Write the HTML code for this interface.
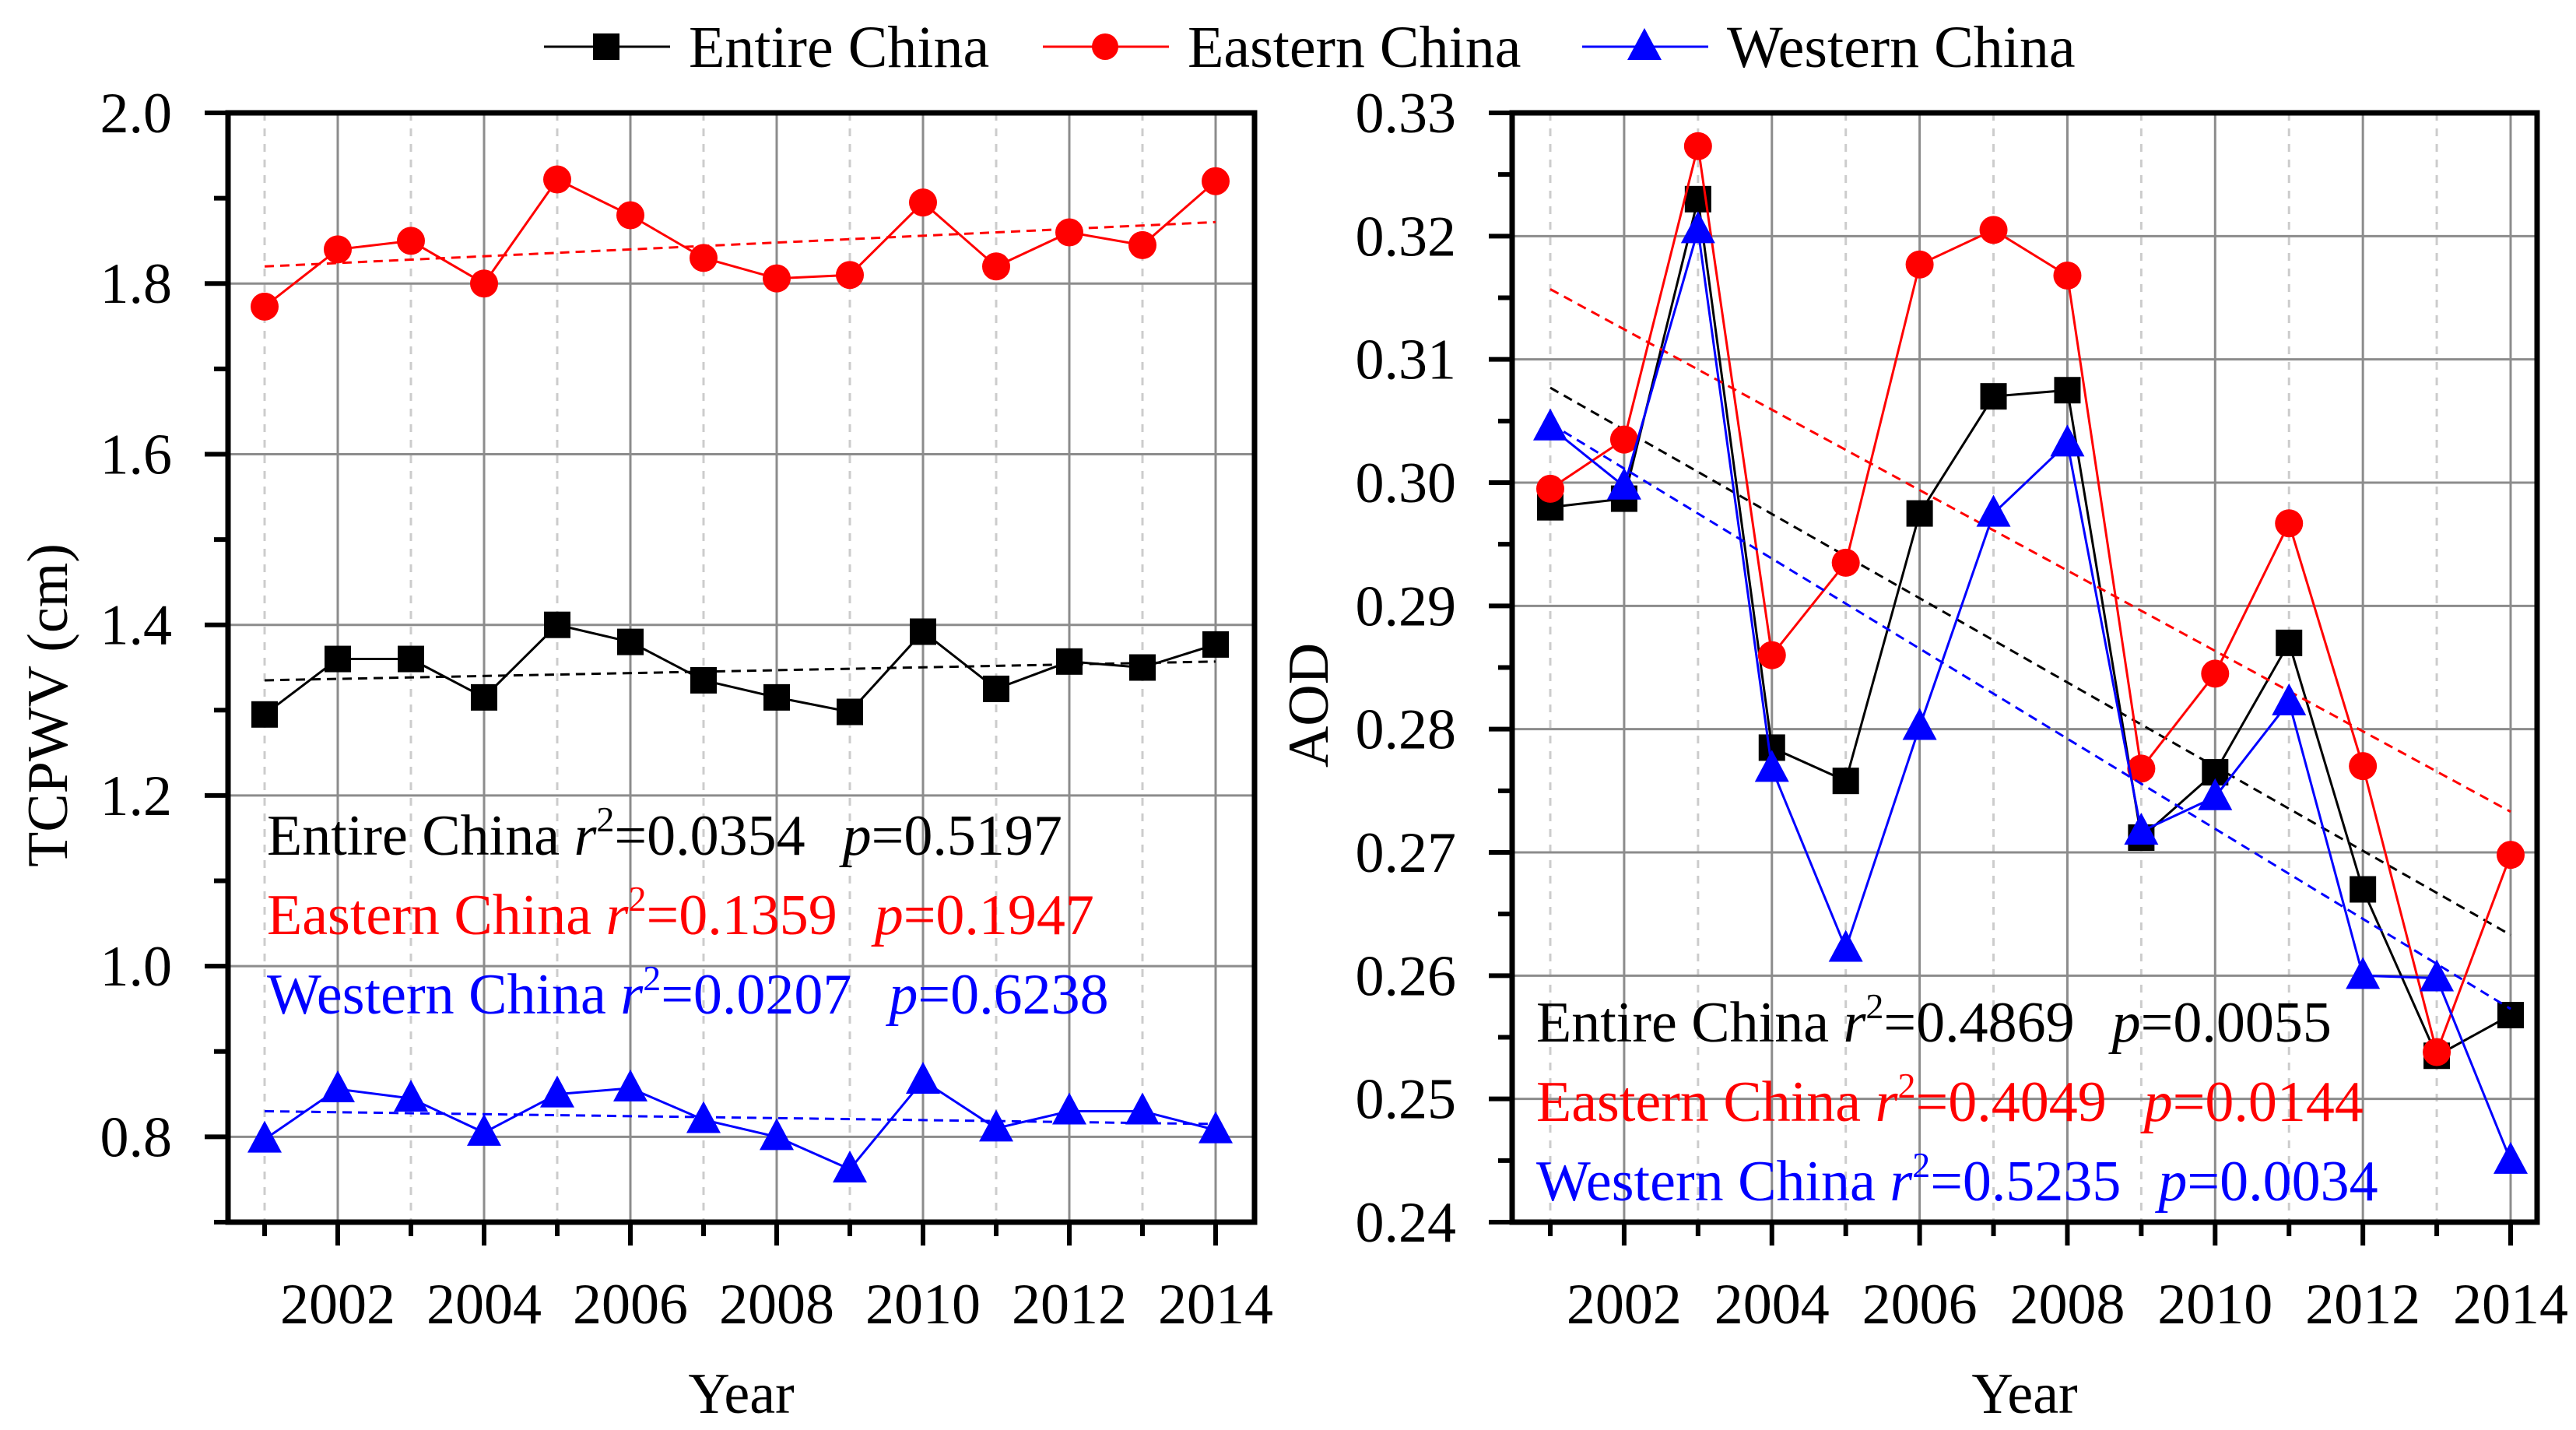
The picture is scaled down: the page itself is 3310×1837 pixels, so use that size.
<!DOCTYPE html>
<html><head><meta charset="utf-8"><style>
html,body{margin:0;padding:0;background:#fff;}
svg{display:block;font-family:"Liberation Serif",serif;}
svg text{font-family:"Liberation Serif",serif;font-variant-numeric:normal;}
</style></head><body>
<svg id="chart" width="3310" height="1837" viewBox="0 0 3310 1837" xmlns="http://www.w3.org/2000/svg"></svg>
<script>
const years = [2001,2002,2003,2004,2005,2006,2007,2008,2009,2010,2011,2012,2013,2014];
const xTickLabels = ["2002","2004","2006","2008","2010","2012","2014"];
// left panel: TCPWV
const tcpwvEntire = [1.295,1.36,1.36,1.315,1.40,1.38,1.335,1.315,1.298,1.392,1.325,1.357,1.35,1.377];
const tcpwvEastern = [1.773,1.84,1.85,1.80,1.922,1.88,1.83,1.806,1.81,1.895,1.82,1.86,1.845,1.92];
const tcpwvWestern = [0.797,0.856,0.845,0.805,0.85,0.857,0.82,0.80,0.762,0.866,0.81,0.83,0.83,0.808];
const tcpwvTrendEntire = [1.335,1.357];
const tcpwvTrendEastern = [1.82,1.872];
const tcpwvTrendWestern = [0.83,0.815];
const tcpwvTicks = ["0.8","1.0","1.2","1.4","1.6","1.8","2.0"];
// right panel: AOD
const aodEntire = [0.298,0.2987,0.323,0.2785,0.2758,0.2975,0.307,0.3075,0.2712,0.2765,0.287,0.267,0.2535,0.2568];
const aodEastern = [0.2995,0.3035,0.3273,0.286,0.2935,0.3177,0.3205,0.3168,0.2768,0.2845,0.2967,0.277,0.2538,0.2698];
const aodWestern = [0.3045,0.2997,0.3205,0.2768,0.2622,0.2802,0.2975,0.3032,0.2717,0.2745,0.2822,0.26,0.2598,0.245];
const aodTrendEntire = [0.3077,0.2633];
const aodTrendEastern = [0.3157,0.2733];
const aodTrendWestern = [0.3048,0.2573];
const aodTicks = ["0.24","0.25","0.26","0.27","0.28","0.29","0.30","0.31","0.32","0.33"];

const NS="http://www.w3.org/2000/svg";
const svg=document.getElementById('chart');
const FF='"Liberation Serif", serif';
function mk(tag,attrs,parent){const e=document.createElementNS(NS,tag);for(const k in attrs)e.setAttribute(k,attrs[k]);if(tag==='text')e.setAttribute('font-family',FF);(parent||svg).appendChild(e);return e;}
const FS=74;

function panel(opt){
  const g=mk('g',{});
  
  
  const X=y=>opt.x0+(y-2001)*(opt.x1-opt.x0)/13;
  const Y=v=>opt.yTop+(opt.vTop-v)*(opt.yBot-opt.yTop)/(opt.vTop-opt.vBot);
  years.forEach(yr=>{
    const major=yr%2===0;
    const l=mk('line',{x1:X(yr),x2:X(yr),y1:opt.yTop,y2:opt.yBot,stroke:major?'#8c8c8c':'#cccccc','stroke-width':3,'stroke-dasharray':major?'none':'10,10'},g);
    
    
  });
  opt.ticks.forEach(t=>{
    const v=parseFloat(t);const y=Y(v);
    const l=mk('line',{x1:opt.fx0,x2:opt.fx1,y1:y,y2:y,stroke:'#8c8c8c','stroke-width':3},g);
    
    
    mk('line',{x1:opt.fx0-30,x2:opt.fx0,y1:y,y2:y,stroke:'#000','stroke-width':6},g);
    const tx=mk('text',{x:opt.fx0-72,y:y+25,'font-size':FS,'text-anchor':'end',fill:'#000'},g);
    tx.textContent=t;
    
    
  });
  for(let i=0;i<opt.ticks.length;i++){
    const v=parseFloat(opt.ticks[i])-opt.step/2;
    if(v>opt.vBot-1e-9){const y=Y(v);mk('line',{x1:opt.fx0-18,x2:opt.fx0,y1:y,y2:y,stroke:'#000','stroke-width':6},g);}
  }
  years.forEach(yr=>{
    const major=yr%2===0;
    mk('line',{x1:X(yr),x2:X(yr),y1:opt.yBot,y2:opt.yBot+(major?30:18),stroke:'#000','stroke-width':6},g);
  });
  xTickLabels.forEach(t=>{
    const tx=mk('text',{x:X(+t),y:1700,'font-size':FS,'text-anchor':'middle',fill:'#000'},g);
    tx.textContent=t;
    
    
  });
  const fr=mk('rect',{x:opt.fx0,y:opt.yTop,width:opt.fx1-opt.fx0,height:opt.yBot-opt.yTop,fill:'none',stroke:'#000','stroke-width':7},g);
  
  
  opt.series.forEach(s=>{
    const tl=mk('line',{x1:X(2001),x2:X(2014),y1:Y(s.trend[0]),y2:Y(s.trend[1]),stroke:s.color,'stroke-width':3,'stroke-dasharray':'12,8'},g);
    
    
    const pts=s.vals.map((v,i)=>X(years[i])+','+Y(v)).join(' ');
    const pl=mk('polyline',{points:pts,fill:'none',stroke:s.color,'stroke-width':3},g);
    
    
    s.vals.forEach((v,i)=>{
      const cx=X(years[i]),cy=Y(v);let m;
      if(s.marker==='sq') m=mk('rect',{x:cx-17,y:cy-17,width:34,height:34,fill:s.color},g);
      else if(s.marker==='ci') m=mk('circle',{cx:cx,cy:cy,r:18,fill:s.color},g);
      else m=mk('polygon',{points:`${cx},${cy-24} ${cx-22},${cy+17} ${cx+22},${cy+17}`,fill:s.color},g);
      
      
    });
  });
  opt.notes.forEach((n,i)=>{
    const tx=mk('text',{x:opt.noteX,y:opt.noteY+i*102,'font-size':FS,fill:n.color},g);
    tx.innerHTML=`${n.label} <tspan font-style="italic">r</tspan><tspan dy="-30" font-size="46">2</tspan><tspan dy="30">=${n.r}</tspan><tspan dx="48" font-style="italic">p</tspan><tspan>=${n.p}</tspan>`;
    
    
  });
  const xt=mk('text',{x:(opt.fx0+opt.fx1)/2,y:1815,'font-size':FS,'text-anchor':'middle',fill:'#000'},g);
  xt.textContent='Year';
  
  
  const yt=mk('text',{x:0,y:0,'font-size':FS,'text-anchor':'middle',fill:'#000',transform:`translate(${opt.ytX},906) rotate(-90)`},g);
  yt.textContent=opt.ytitle;
  
  
}

panel({name:'tcpwv-panel',fx0:293,fx1:1612,x0:340,x1:1562,yTop:145,yBot:1570,vTop:2.0,vBot:0.7,step:0.2,ticks:tcpwvTicks,ytitle:'TCPWV (cm)',ytX:86,
  noteX:343,noteY:1098,
  series:[
    {key:'entire-china',vals:tcpwvEntire,trend:tcpwvTrendEntire,color:'#000',marker:'sq'},
    {key:'eastern-china',vals:tcpwvEastern,trend:tcpwvTrendEastern,color:'#ff0000',marker:'ci'},
    {key:'western-china',vals:tcpwvWestern,trend:tcpwvTrendWestern,color:'#0000ff',marker:'tr'}],
  notes:[{label:'Entire China',r:'0.0354',p:'0.5197',color:'#000'},{label:'Eastern China',r:'0.1359',p:'0.1947',color:'#ff0000'},{label:'Western China',r:'0.0207',p:'0.6238',color:'#0000ff'}]});
panel({name:'aod-panel',fx0:1943,fx1:3260,x0:1992,x1:3226,yTop:145,yBot:1570,vTop:0.33,vBot:0.24,step:0.01,ticks:aodTicks,ytitle:'AOD',ytX:1706,
  noteX:1974,noteY:1338,
  series:[
    {key:'entire-china',vals:aodEntire,trend:aodTrendEntire,color:'#000',marker:'sq'},
    {key:'eastern-china',vals:aodEastern,trend:aodTrendEastern,color:'#ff0000',marker:'ci'},
    {key:'western-china',vals:aodWestern,trend:aodTrendWestern,color:'#0000ff',marker:'tr'}],
  notes:[{label:'Entire China',r:'0.4869',p:'0.0055',color:'#000'},{label:'Eastern China',r:'0.4049',p:'0.0144',color:'#ff0000'},{label:'Western China',r:'0.5235',p:'0.0034',color:'#0000ff'}]});

const legend=[{label:'Entire China',color:'#000',marker:'sq',x:699},{label:'Eastern China',color:'#ff0000',marker:'ci',x:1340},{label:'Western China',color:'#0000ff',marker:'tr',x:2033}];
legend.forEach(L=>{
  const g=mk('g',{});
  
  
  const y=60,cx=L.x+80;
  mk('line',{x1:L.x,x2:L.x+162,y1:y,y2:y,stroke:L.color,'stroke-width':3},g);
  if(L.marker==='sq') mk('rect',{x:cx-17,y:y-17,width:34,height:34,fill:L.color},g);
  else if(L.marker==='ci') mk('circle',{cx:cx,cy:y,r:17,fill:L.color},g);
  else mk('polygon',{points:`${cx},${y-24} ${cx-22},${y+17} ${cx+22},${y+17}`,fill:L.color},g);
  const t=mk('text',{x:L.x+186,y:86,'font-size':76,fill:'#000'},g);
  t.textContent=L.label;
});
</script>
</body></html>
